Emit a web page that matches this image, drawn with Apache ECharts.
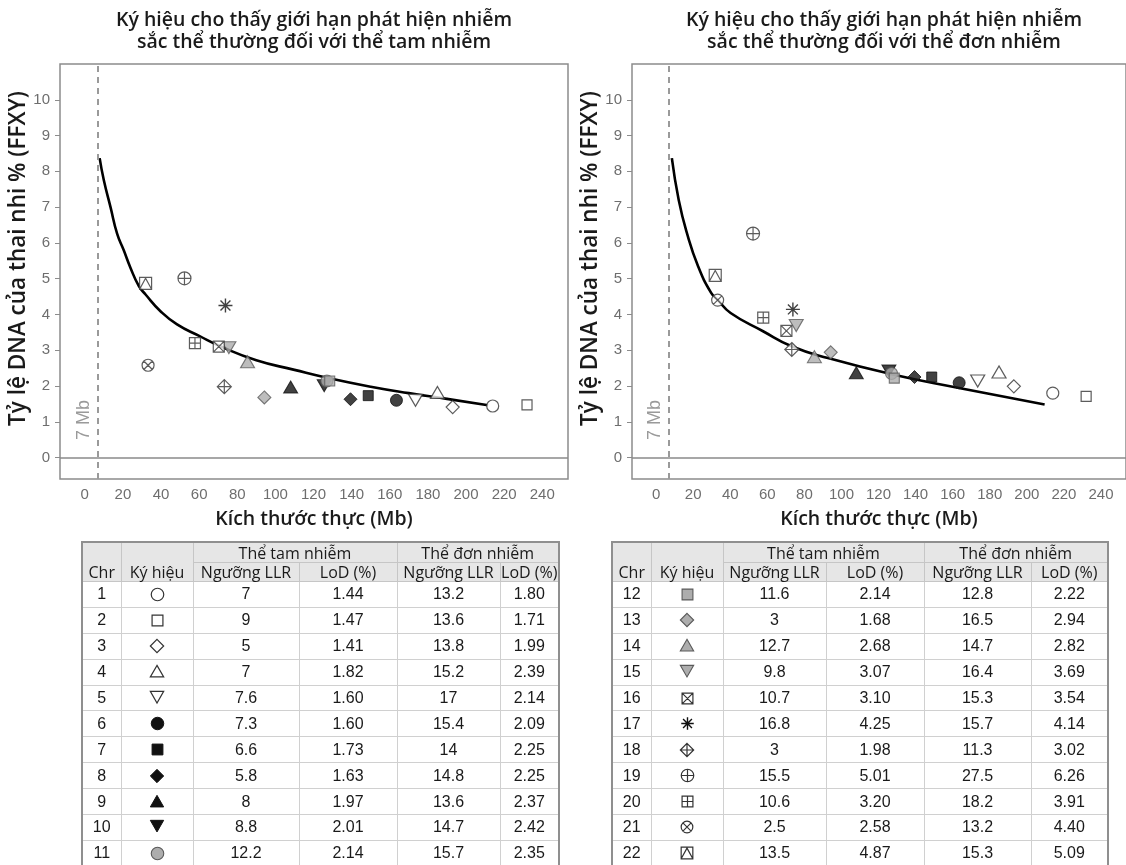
<!DOCTYPE html>
<html><head><meta charset="utf-8">
<script src="https://cdn.jsdelivr.net/npm/echarts@6/dist/echarts.min.js"></script>
<style>
html,body{margin:0;padding:0;background:#fff;}
#wrap{position:relative;width:1126px;height:865px;overflow:hidden;}
#chart{position:absolute;left:0;top:0;width:1126px;height:865px;}
table.t{position:absolute;border-collapse:collapse;table-layout:fixed;border:2px solid #8f8f8f;color:#1a1a1a;}
table.t th{background:#e6e6e6;font-family:'Open Sans','Noto Sans',sans-serif;font-weight:500;font-size:16px;padding:0;border:1px solid #c6c6c6;line-height:18px;white-space:nowrap;overflow:visible;}
table.t tr.h1 th{height:19px;}
table.t tr.h2 th{height:18px;}
table.t th.rs{vertical-align:bottom;}
table.t td{font-family:'Liberation Sans',Arial,sans-serif;font-size:16px;text-align:center;padding:0;border:1px solid #d0d0d0;height:24.9px;line-height:18px;}
table.t td svg{display:block;margin:0 auto;}
</style></head>
<body><div id="wrap"><div id="chart"></div></div>
<script>
// ---------------- DATA ----------------
const chromosomes = ['1','2','3','4','5','6','7','8','9','10','11','12','13','14','15','16','17','18','19','20','21','22'];
// effective chromosome size (Mb) read from the x positions of the symbols
const sizeMb = [214, 232, 193, 185, 173.5, 163.5, 148.7, 139.4, 108, 125.6, 127, 128.5, 94.2, 85.4, 75.6, 70.3, 73.8, 73.2, 52.3, 57.8, 33.2, 31.9];
const trisomyLLR = [7, 9, 5, 7, 7.6, 7.3, 6.6, 5.8, 8, 8.8, 12.2, 11.6, 3, 12.7, 9.8, 10.7, 16.8, 3, 15.5, 10.6, 2.5, 13.5];
const trisomyLoD = [1.44, 1.47, 1.41, 1.82, 1.60, 1.60, 1.73, 1.63, 1.97, 2.01, 2.14, 2.14, 1.68, 2.68, 3.07, 3.10, 4.25, 1.98, 5.01, 3.20, 2.58, 4.87];
const monosomyLLR = [13.2, 13.6, 13.8, 15.2, 17, 15.4, 14, 14.8, 13.6, 14.7, 15.7, 12.8, 16.5, 14.7, 16.4, 15.3, 15.7, 11.3, 27.5, 18.2, 13.2, 15.3];
const monosomyLoD = [1.80, 1.71, 1.99, 2.39, 2.14, 2.09, 2.25, 2.25, 2.37, 2.42, 2.35, 2.22, 2.94, 2.82, 3.69, 3.54, 4.14, 3.02, 6.26, 3.91, 4.40, 5.09];
// detection-limit curves
const curveTrisomyX = [7.8, 10, 13.5, 17, 20.4, 24, 28.3, 32, 39.7, 48.4, 60, 71.1, 90, 110, 127, 150, 170, 190, 211.6];
const curveTrisomyY = [8.37, 7.75, 7.0, 6.25, 5.8, 5.3, 4.8, 4.55, 4.09, 3.72, 3.4, 3.11, 2.72, 2.45, 2.23, 1.98, 1.8, 1.64, 1.46];
const curveMonosomyX = [8.5, 12.2, 16.6, 22.7, 29.7, 33.2, 40.2, 57.7, 73.1, 92.7, 127.7, 162.7, 209.6];
const curveMonosomyY = [8.37, 7.2, 6.28, 5.34, 4.6, 4.41, 4.04, 3.53, 3.11, 2.78, 2.32, 1.95, 1.48];
const xTickLabels = [0, 20, 40, 60, 80, 100, 120, 140, 160, 180, 200, 220, 240];
const yTickLabels = [0, 1, 2, 3, 4, 5, 6, 7, 8, 9, 10];
const cutoffMb = 7;
const cutoffLabel = '7 Mb';
const titleTrisomy = 'Ký hiệu cho thấy giới hạn phát hiện nhiễm\nsắc thể thường đối với thể tam nhiễm';
const titleMonosomy = 'Ký hiệu cho thấy giới hạn phát hiện nhiễm\nsắc thể thường đối với thể đơn nhiễm';
const xAxisName = 'Kích thước thực (Mb)';
const yAxisName = 'Tỷ lệ DNA của thai nhi % (FFXY)';
const headers = {chr:'Chr', sym:'Ký hiệu', tri:'Thể tam nhiễm', mono:'Thể đơn nhiễm', llr:'Ngưỡng LLR', lod:'LoD (%)'};

// ---------------- STYLE ----------------
const symbolKinds = ['circle','rect','diamond','triangle','triangleDown','circle','rect','diamond','triangle','triangleDown',
  'circle','rect','diamond','triangle','triangleDown','squareX','asterisk','diamondPlus','circlePlus','squarePlus','circleX','squareTriangle'];
const fillKinds = ['open','open','open','open','open','black','black','black','black','black',
  'gray','gray','gray','gray','gray','open','line','open','open','open','open','open'];
const C = 'M0,5A5,5,0,1,1,10,5A5,5,0,1,1,0,5Z';
const R = 'M0,0L10,0L10,10L0,10Z';
const kindPaths = {
  circle: C, rect: R, diamond: 'M5,0L10,5L5,10L0,5Z',
  triangle: 'M5,0L10,8.7L0,8.7Z', triangleDown: 'M0,0L10,0L5,8.7Z',
  squareX: R + 'M0,0L10,10M10,0L0,10',
  asterisk: 'M5,0L5,10M0,5L10,5M1.46,1.46L8.54,8.54M8.54,1.46L1.46,8.54',
  diamondPlus: 'M5,0L10,5L5,10L0,5ZM5,0L5,10M0,5L10,5',
  circlePlus: C + 'M5,0L5,10M0,5L10,5',
  squarePlus: R + 'M5,0L5,10M0,5L10,5',
  circleX: C + 'M1.46,1.46L8.54,8.54M8.54,1.46L1.46,8.54',
  squareTriangle: R + 'M0,10L5,0.8L10,10'
};
const kindSize = {circle:12, rect:10, diamond:13, triangle:[14,12], triangleDown:[14,12], squareX:11, asterisk:14,
  diamondPlus:14, circlePlus:13, squarePlus:11, circleX:12, squareTriangle:12};
const fillStyle = {
  open: {color:'#ffffff', borderColor:'#333333', borderWidth:1.2},
  black: {color:'#111111', borderColor:'#111111', borderWidth:1},
  gray: {color:'#adadad', borderColor:'#5a5a5a', borderWidth:1.1},
  line: {color:'rgba(0,0,0,0)', borderColor:'#111111', borderWidth:1.4}
};

function scatterData(lod) {
  return chromosomes.map((c, i) => ({
    name: 'Chr ' + c,
    value: [sizeMb[i], lod[i]],
    symbol: 'path://' + kindPaths[symbolKinds[i]],
    symbolSize: kindSize[symbolKinds[i]],
    itemStyle: fillStyle[fillKinds[i]]
  }));
}
function pairs(xs, ys) { return xs.map((x, i) => [x, ys[i]]); }

const GRID_TOP = 64, GRID_H = 415, GRID_W = 508;
const tickColor = '#6e6e6e';
const nameFont = 'Open Sans, Noto Sans, sans-serif';

function xAxisFor(gi) {
  return {gridIndex: gi, type:'value', min:-13, max:253.5,
    axisLine:{show:false, onZero:false}, axisTick:{show:false}, splitLine:{show:false},
    axisLabel:{customValues: xTickLabels, color:tickColor, fontSize:15, fontFamily:'Liberation Sans, Arial, sans-serif', margin:8},
    name: xAxisName, nameLocation:'middle', nameGap:30,
    nameTextStyle:{fontSize:19.5, fontWeight:600, color:'#1a1a1a', fontFamily:nameFont}};
}
function yAxisFor(gi) {
  return {gridIndex: gi, type:'value', min:-0.6, max:11,
    axisLine:{show:false, onZero:false}, splitLine:{show:false},
    axisTick:{show:true, customValues: yTickLabels, length:5, lineStyle:{color:'#8c8c8c', width:1}},
    axisLabel:{customValues: yTickLabels, color:tickColor, fontSize:15, fontFamily:'Liberation Sans, Arial, sans-serif', margin:10},
    name: yAxisName, nameLocation:'middle', nameGap:30, nameMoveOverlap:false,
    nameTextStyle:{fontSize:22.5, fontWeight:600, color:'#1a1a1a', fontFamily:nameFont, padding:[0,0,0,26]}};
}
function curveSeries(gi, data) {
  return {type:'line', xAxisIndex: gi, yAxisIndex: gi, data: data, smooth:0.5,
    symbol:'none', z:2, lineStyle:{color:'#000', width:2.6},
    markLine:{silent:true, symbol:'none', animation:false,
      data:[
        {yAxis:0, lineStyle:{type:'solid', color:'#8a8a8a', width:1.6}, label:{show:false}},
        {xAxis:cutoffMb, lineStyle:{type:[6,5], color:'#9a9a9a', width:2},
          label:{show:true, formatter: cutoffLabel, position:'insideStartTop', distance:[39,5],
            color:'#9a9a9a', fontSize:18, fontFamily:'Liberation Sans, Arial, sans-serif'}}
      ]}};
}
function scatterSeries(gi, lod) {
  return {type:'scatter', xAxisIndex: gi, yAxisIndex: gi, z:3, data: scatterData(lod)};
}

const chart = echarts.init(document.getElementById('chart'), null, {renderer:'canvas'});
const titleStyle = {fontSize:19.5, fontWeight:600, lineHeight:22.5, color:'#1a1a1a', fontFamily:nameFont};
chart.setOption({
  animation:false,
  backgroundColor:'#ffffff',
  title:[
    {text:titleTrisomy, left:314, top:9, textAlign:'center', padding:0, textStyle:titleStyle},
    {text:titleMonosomy, left:884, top:9, textAlign:'center', padding:0, textStyle:titleStyle}
  ],
  grid:[
    {left:60, top:GRID_TOP, width:GRID_W, height:GRID_H, show:true, borderColor:'#8c8c8c', borderWidth:1.5, backgroundColor:'transparent'},
    {left:632, top:GRID_TOP, width:GRID_W, height:GRID_H, show:true, borderColor:'#8c8c8c', borderWidth:1.5, backgroundColor:'transparent'}
  ],
  xAxis:[xAxisFor(0), xAxisFor(1)],
  yAxis:[yAxisFor(0), yAxisFor(1)],
  series:[
    curveSeries(0, pairs(curveTrisomyX, curveTrisomyY)),
    scatterSeries(0, trisomyLoD),
    curveSeries(1, pairs(curveMonosomyX, curveMonosomyY)),
    scatterSeries(1, monosomyLoD)
  ]
});

// ---------------- TABLES ----------------
const tableSymSize = {circle:13, rect:11, diamond:14, triangle:14, triangleDown:14, squareX:11, asterisk:13,
  diamondPlus:14, circlePlus:13, squarePlus:11, circleX:12, squareTriangle:12};
function symbolSVG(i) {
  const k = symbolKinds[i], f = fillStyle[fillKinds[i]], s = tableSymSize[k];
  return `<svg width="${s+2}" height="${s+2}" viewBox="-1 -1 12 12"><path d="${kindPaths[k]}" fill="${f.color}" stroke="${f.borderColor}" stroke-width="${f.borderWidth}" vector-effect="non-scaling-stroke"/></svg>`;
}
function buildTable(from, to, left, widths) {
  let h = `<table class="t" style="left:${left}px;top:541px;"><colgroup>` + widths.map(w => `<col style="width:${w}px">`).join('') + '</colgroup>';
  h += `<tr class="h1"><th rowspan="2" class="rs">${headers.chr}</th><th rowspan="2" class="rs">${headers.sym}</th><th colspan="2">${headers.tri}</th><th colspan="2">${headers.mono}</th></tr>`;
  h += `<tr class="h2"><th>${headers.llr}</th><th>${headers.lod}</th><th>${headers.llr}</th><th>${headers.lod}</th></tr>`;
  for (let i = from; i < to; i++) {
    h += `<tr><td>${chromosomes[i]}</td><td>${symbolSVG(i)}</td><td>${trisomyLLR[i]}</td><td>${trisomyLoD[i].toFixed(2)}</td><td>${monosomyLLR[i]}</td><td>${monosomyLoD[i].toFixed(2)}</td></tr>`;
  }
  return h + '</table>';
}
document.getElementById('wrap').insertAdjacentHTML('beforeend',
  buildTable(0, 11, 81, [39, 72, 106, 98, 103, 59]) + buildTable(11, 22, 611, [39, 72, 103, 98, 107, 77]));
</script>
</body></html>
